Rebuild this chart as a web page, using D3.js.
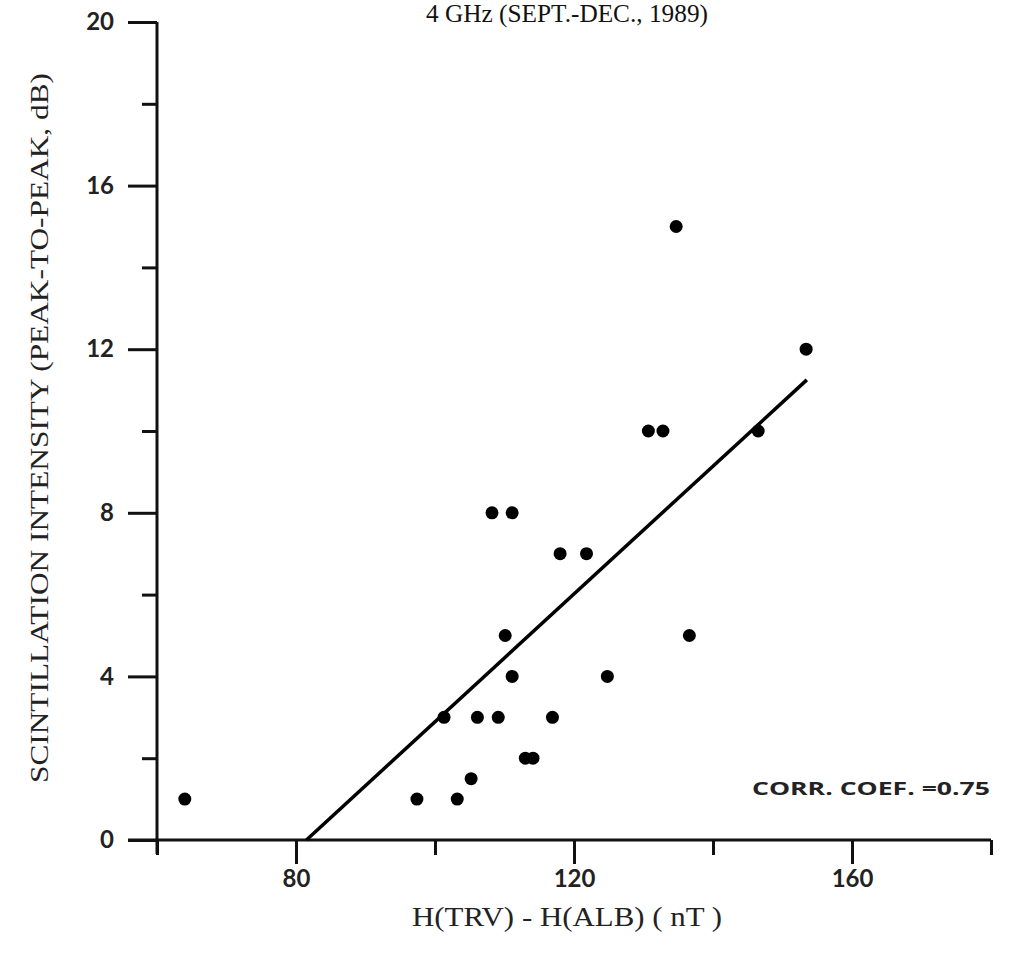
<!DOCTYPE html>
<html>
<head>
<meta charset="utf-8">
<script src="https://cdn.jsdelivr.net/npm/d3@7"></script>
<style>
  html, body { margin: 0; padding: 0; background: #fff; }
  svg { display: block; }
</style>
</head>
<body>
<div id="chart"></div>
<script>
// H(TRV) - H(ALB) in nT
const deltaH = [64, 97.4, 103.2, 105.2, 101.3, 106.1, 109.1, 116.9, 113.0, 114.1,
                111.1, 124.8, 110.1, 136.6, 108.2, 111.1, 118, 121.8, 130.7, 132.8,
                146.5, 134.7, 153.4];
// scintillation intensity, peak-to-peak dB
const scint = [1, 1, 1, 1.5, 3, 3, 3, 3, 2, 2,
               4, 4, 5, 5, 8, 8, 7, 7, 10, 10,
               10, 15, 12];

// regression line end points
const fitX = [81.5, 153.5];
const fitY = [0, 11.25];

const xMajor = [80, 120, 160];
const xMinor = [60, 100, 140, 180];
const yMajor = [0, 4, 8, 12, 16, 20];
const yMinor = [2, 6, 10, 14, 18];

const titleText = '4 GHz (SEPT.-DEC., 1989)';
const xTitle = 'H(TRV) - H(ALB) ( nT )';
const yTitle = 'SCINTILLATION INTENSITY (PEAK-TO-PEAK, dB)';
const corrText = 'CORR. COEF. =0.75';

const width = 1010, height = 958;
const margin = { top: 22, right: 19, bottom: 118, left: 157 };

const svg = d3.select('#chart').append('svg')
    .attr('width', width)
    .attr('height', height);

const x = d3.scaleLinear().domain([60, 180]).range([margin.left, width - margin.right]);
const y = d3.scaleLinear().domain([0, 20]).range([height - margin.bottom, margin.top]);

const serif = '"Liberation Serif", "Times New Roman", serif';
const sans = 'Lato, "Open Sans", sans-serif';

// Axes
const yAxis = svg.append('g')
    .attr('transform', `translate(${x(60)},0)`)
    .call(d3.axisLeft(y).tickValues(yMajor).tickSize(29).tickPadding(14).tickFormat(d3.format('d')));
const yAxisMinor = svg.append('g')
    .attr('transform', `translate(${x(60)},0)`)
    .call(d3.axisLeft(y).tickValues(yMinor).tickSize(15).tickFormat(''));

const xAxis = svg.append('g')
    .attr('transform', `translate(0,${y(0)})`)
    .call(d3.axisBottom(x).tickValues(xMajor).tickSize(24).tickPadding(6).tickFormat(d3.format('d')));
const xAxisMinor = svg.append('g')
    .attr('transform', `translate(0,${y(0)})`)
    .call(d3.axisBottom(x).tickValues(xMinor).tickSize(15).tickFormat(''));

[yAxis, yAxisMinor, xAxis, xAxisMinor].forEach(a => {
    a.select('.domain').remove();
    a.selectAll('line').attr('stroke', '#111').attr('stroke-width', 3);
    a.selectAll('text')
        .attr('fill', '#222')
        .style('font-family', sans)
        .style('font-weight', 'bold')
        .style('font-size', '24px');
});

// axis lines (y extends a bit below 0 and x extends a bit left)
svg.append('line')
    .attr('x1', x(60)).attr('x2', x(60))
    .attr('y1', y(20)).attr('y2', y(0) + 14)
    .attr('stroke', '#111').attr('stroke-width', 3);
svg.append('line')
    .attr('x1', x(60) - 29).attr('x2', x(180))
    .attr('y1', y(0)).attr('y2', y(0))
    .attr('stroke', '#111').attr('stroke-width', 3);

// Regression line
svg.append('line')
    .attr('x1', x(fitX[0])).attr('y1', y(fitY[0]))
    .attr('x2', x(fitX[1])).attr('y2', y(fitY[1]))
    .attr('stroke', '#000')
    .attr('stroke-width', 3.5);

// Points
svg.selectAll('.pt')
    .data(deltaH.map((d, i) => ({ h: d, s: scint[i] })))
    .enter()
    .append('circle')
    .attr('class', 'pt')
    .attr('cx', d => x(d.h))
    .attr('cy', d => y(d.s))
    .attr('r', 6.5)
    .attr('fill', '#000');

// Texts
svg.append('text')
    .attr('x', 567).attr('y', 22)
    .attr('text-anchor', 'middle')
    .style('font-family', serif)
    .style('font-size', '25px')
    .attr('fill', '#111')
    .attr('textLength', 282)
    .attr('lengthAdjust', 'spacingAndGlyphs')
    .text(titleText);

svg.append('text')
    .attr('x', 567).attr('y', 926)
    .attr('text-anchor', 'middle')
    .style('font-family', serif)
    .style('font-size', '28px')
    .attr('fill', '#222')
    .attr('textLength', 310)
    .attr('lengthAdjust', 'spacingAndGlyphs')
    .text(xTitle);

svg.append('text')
    .attr('transform', `translate(48,${(73 + 783) / 2}) rotate(-90)`)
    .attr('text-anchor', 'middle')
    .style('font-family', serif)
    .style('font-size', '25px')
    .attr('fill', '#222')
    .attr('textLength', 710)
    .attr('lengthAdjust', 'spacingAndGlyphs')
    .text(yTitle);

svg.append('text')
    .attr('x', 990).attr('y', 795)
    .attr('text-anchor', 'end')
    .style('font-family', '"Open Sans", sans-serif')
    .style('font-weight', 'bold')
    .style('font-size', '18px')
    .attr('fill', '#222')
    .attr('textLength', 238)
    .attr('lengthAdjust', 'spacingAndGlyphs')
    .text(corrText);
</script>
</body>
</html>
